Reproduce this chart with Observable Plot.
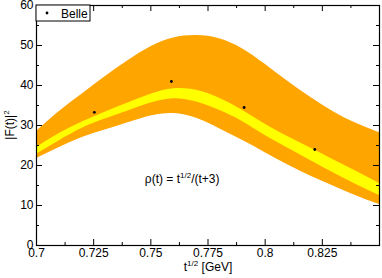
<!DOCTYPE html>
<html>
<head>
<meta charset="utf-8">
<script src="https://cdn.jsdelivr.net/npm/d3@7"></script>
<script src="https://cdn.jsdelivr.net/npm/@observablehq/plot@0.6"></script>
<style>
  html, body { margin: 0; padding: 0; background: #fff; }
  svg { font-family: "Liberation Sans", Arial, sans-serif; }
</style>
</head>
<body>
<div id="chart"></div>
<script>
// sqrt(t) grid [GeV]
const sqrtT = [0.70, 0.71, 0.72, 0.73, 0.74, 0.75, 0.76, 0.77, 0.78, 0.79, 0.80, 0.81, 0.82, 0.83, 0.84, 0.85];
// outer (orange) band
const outerHigh = [28.5, 33.5, 37.9, 42.2, 46.2, 49.7, 51.9, 52.5, 51.7, 49.2, 45.3, 41.0, 37.0, 33.4, 30.5, 28.2];
const outerLow  = [21.75, 24.5, 27.0, 28.9, 30.7, 32.4, 33.0, 31.8, 29.2, 26.3, 23.2, 20.1, 17.3, 14.8, 12.4, 10.25];
// inner (yellow) band
const innerHigh = [24.5, 28.0, 30.9, 33.3, 35.6, 37.8, 39.2, 38.8, 36.8, 33.8, 30.3, 27.2, 24.3, 21.4, 18.5, 15.5];
const innerLow  = [22.8, 26.2, 29.3, 31.6, 33.6, 35.6, 36.7, 35.9, 33.8, 31.0, 27.5, 24.3, 21.2, 18.1, 15.2, 12.5];
// Belle data
const belleX = [0.7253, 0.7590, 0.7908, 0.8217];
const belleY = [33.3, 41.0, 34.5, 24.0];
// ticks
const xTicks = [0.7, 0.725, 0.75, 0.775, 0.8, 0.825];
const xMinor = [0.7125, 0.7375, 0.7625, 0.7875, 0.8125, 0.8375];
const yTicks = [0, 10, 20, 30, 40, 50, 60];
const yMinor = [5, 15, 25, 35, 45, 55];

const band = sqrtT.map((x, i) => ({x, oLo: outerLow[i], oHi: outerHigh[i], iLo: innerLow[i], iHi: innerHigh[i]}));
const pts = belleX.map((x, i) => ({x, y: belleY[i]}));

const W = 382, H = 278, mL = 36, mR = 3, mT = 5, mB = 33;
const fw = W - mL - mR, fh = H - mT - mB;

const plot = Plot.plot({
  width: W, height: H,
  marginLeft: mL, marginRight: mR, marginTop: mT, marginBottom: mB,
  style: {fontFamily: "Liberation Sans, Arial, sans-serif", fontSize: "12px", background: "white", overflow: "visible"},
  x: {domain: [0.7, 0.85]},
  y: {domain: [0, 60]},
  marks: [
    Plot.areaY(band, {x: "x", y1: "oLo", y2: "oHi", fill: "#FFA500", curve: "natural"}),
    Plot.areaY(band, {x: "x", y1: "iLo", y2: "iHi", fill: "#FFFF00", curve: "natural"}),
    Plot.dot(pts, {x: "x", y: "y", r: 1.4, fill: "black", stroke: "none"}),
    // inward ticks
    Plot.tickX(xTicks, {x: d => d, insetTop: fh - 6, stroke: "black"}),
    Plot.tickX(xTicks, {x: d => d, insetBottom: fh - 6, stroke: "black"}),
    Plot.tickX(xMinor, {x: d => d, insetTop: fh - 3, stroke: "black"}),
    Plot.tickX(xMinor, {x: d => d, insetBottom: fh - 3, stroke: "black"}),
    Plot.tickY(yTicks, {y: d => d, insetRight: fw - 6, stroke: "black"}),
    Plot.tickY(yTicks, {y: d => d, insetLeft: fw - 6, stroke: "black"}),
    Plot.tickY(yMinor, {y: d => d, insetRight: fw - 3, stroke: "black"}),
    Plot.tickY(yMinor, {y: d => d, insetLeft: fw - 3, stroke: "black"}),
    Plot.axisX(xTicks, {tickSize: 0, tickPadding: 3, label: null, tickFormat: d => String(d), fontSize: 12}),
    Plot.axisY(yTicks, {tickSize: 0, tickPadding: 3, label: null, tickFormat: d => String(d), fontSize: 12}),
    Plot.frame({stroke: "black", strokeWidth: 1.2})
  ]
});

document.getElementById("chart").appendChild(plot);
const svg = d3.select(plot);
const xs = plot.scale("x"), ys = plot.scale("y");

// annotation rho(t) = t^{1/2}/(t+3)
const ann = svg.append("text")
  .attr("x", xs.apply(0.7476)).attr("y", ys.apply(15.5))
  .attr("text-anchor", "start")
  .attr("font-size", 12).attr("fill", "black");
ann.append("tspan").text("ρ(t) = t");
ann.append("tspan").attr("font-size", 8).attr("dy", -5).text("1/2");
ann.append("tspan").attr("dy", 5).text("/(t+3)");

// x label
const xl = svg.append("text")
  .attr("x", 208).attr("y", 271).attr("text-anchor", "middle")
  .attr("font-size", 12).attr("fill", "black");
xl.append("tspan").text("t");
xl.append("tspan").attr("font-size", 8).attr("dy", -5).text("1/2");
xl.append("tspan").attr("dy", 5).text(" [GeV]");

// y label
const yl = svg.append("text")
  .attr("transform", "translate(14,125) rotate(-90)").attr("text-anchor", "middle")
  .attr("font-size", 12).attr("fill", "black");
yl.append("tspan").text("|F(t)|");
yl.append("tspan").attr("font-size", 8).attr("dy", -5).text("2");

// legend
const lg = svg.append("g");
lg.append("rect").attr("x", mL).attr("y", mT).attr("width", 54).attr("height", 16)
  .attr("fill", "white").attr("stroke", "black").attr("stroke-width", 1);
lg.append("circle").attr("cx", mL + 11).attr("cy", mT + 8).attr("r", 1.4).attr("fill", "black");
lg.append("text").attr("x", mL + 25).attr("y", mT + 12.5).attr("text-anchor", "start")
  .attr("font-size", 12).attr("fill", "black").text("Belle");
</script>
</body>
</html>
